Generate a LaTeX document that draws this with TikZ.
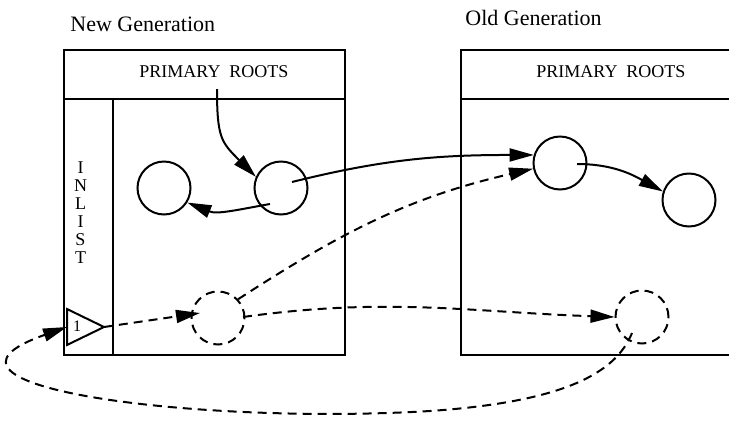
\documentclass[tikz,border=0pt]{standalone}
\usepackage{fontspec}
\setmainfont{Liberation Serif}
\usetikzlibrary{arrows.meta, calc}
\tikzset{
    % Generation boxes
    gen box/.style={draw=black, line width=1pt},
    % Live objects
    object/.style={
        circle, draw=black, line width=1pt,
        minimum size=26.5pt, inner sep=0pt
    },
    % Unreachable copies
    ghost object/.style={object, dash pattern=on 4.5pt off 3pt},
    % Arrows
    ref arrow/.style={
        -{Triangle[length=12pt, width=6.5pt]}, line width=1pt
    },
    remset arrow/.style={ref arrow, dash pattern=on 4.5pt off 3pt},
    % Labels
    gen title/.style={
        font=\fontsize{11}{13}\selectfont, anchor=base west, inner sep=0pt
    },
    roots label/.style={
        font=\fontsize{9}{11}\selectfont, anchor=base, inner sep=0pt
    },
    inlist label/.style={
        font=\fontsize{9}{9}\selectfont, align=center, inner sep=0pt
    }
}
\begin{document}
\begin{tikzpicture}[x=0.5pt, y=0.5pt]

    \clip (0,0) rectangle (729,420);

    % Titles
    \node[gen title] (newtitle) at (70,389) {New Generation};
    \node[gen title] (oldtitle) at (465,395) {Old Generation};

    % New generation box with inlist column
    \draw[gen box] (64,65) rectangle (345,370);
    \draw[gen box] (64,321) -- (345,321);
    \draw[gen box] (113,321) -- (113,65);
    \node[roots label] (newroots) at (214,343) {PRIMARY\ \ ROOTS};
    \node[inlist label] (inlist) at (80.5,207) {I\\N\\L\\I\\S\\T};

    % Old generation box (runs off the right edge)
    \draw[gen box] (740,370) -- (461,370) -- (461,65) -- (740,65);
    \draw[gen box] (461,321) -- (740,321);
    \node[roots label] (oldroots) at (611,343) {PRIMARY\ \ ROOTS};

    % Inlist entry
    \coordinate (entrybase) at (67,93);
    \coordinate (entrytip) at (104,93);
    \draw[gen box] (67,111) -- (entrytip) -- (67,75) -- cycle;
    \node[font=\fontsize{8}{9}\selectfont, inner sep=0pt] (entrynum) at (77,94) {1};

    % Objects
    \node[object] (young1) at (164,232) {};
    \node[object] (young2) at (281,232) {};
    \node[object] (old1) at (560,257) {};
    \node[object] (old2) at (689,220) {};
    \node[ghost object] (ghost1) at (218,102) {};
    \node[ghost object] (ghost2) at (642,103) {};

    % Pointers
    \coordinate (rootref) at (217,331);
    \draw[ref arrow] (rootref) to[out=-90, in=135, looseness=1.3] (young2.156);
    \draw[ref arrow] ($(young2)+(-11,-16)$) to[out=190, in=-22] (young1.-32);
    \draw[ref arrow] ($(young2)+(11,6)$) to[out=14, in=180] (old1.163);
    \draw[ref arrow] ($(old1)+(17,-1)$) to[out=0, in=151] (old2.162);

    % Remembered set pointers
    \draw[remset arrow] (entrytip) -- ($(ghost1)+(-18,5)$);
    \draw[remset arrow] (ghost1.43) to[out=33, in=193] (old1.192);
    \draw[remset arrow] ($(ghost1)+(25,1)$) to[out=8, in=178] (ghost2.west);
    \coordinate (loopbottom) at (430,9);
    \draw[remset arrow] ($(ghost2)+(-10,-16)$) .. controls +(-17,-42) and +(130,9) .. (loopbottom)
        .. controls +(-230,-14) and +(-170,-60) .. (entrybase);

\end{tikzpicture}
\end{document}
